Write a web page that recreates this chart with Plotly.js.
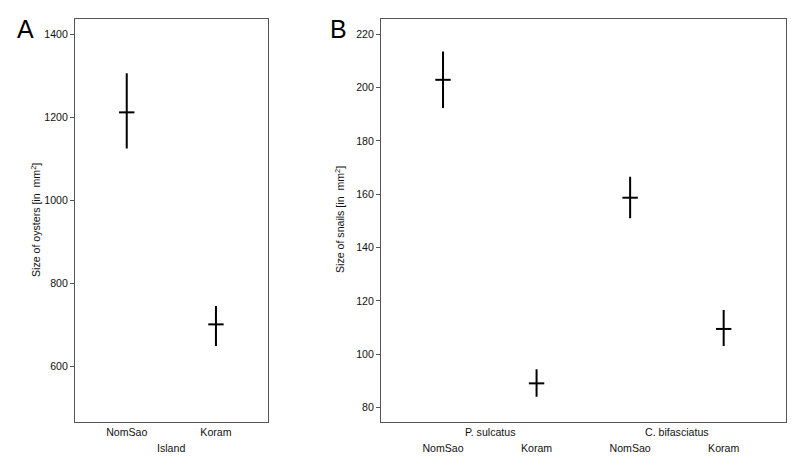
<!DOCTYPE html>
<html>
<head>
<meta charset="utf-8">
<script src="https://cdn.plot.ly/plotly-3.0.1.min.js"></script>
<style>html,body{margin:0;padding:0;background:#fff;}#chart{width:799px;height:472px;}</style>
</head>
<body>
<div id="chart"></div>
<script>
// Panel A: oysters
const islandsA = ['NomSao', 'Koram'];
const oysterMean = [1212, 701];
const oysterUpper = [1306, 745];
const oysterLower = [1125, 649];

// Panel B: snails
const speciesB = ['P. sulcatus', 'C. bifasciatus'];
const islandsB = ['NomSao', 'Koram', 'NomSao', 'Koram'];
const snailMean = [202.9, 89.1, 158.7, 109.5];
const snailUpper = [213.5, 94.4, 166.6, 116.6];
const snailLower = [192.3, 84.1, 151.0, 103.1];

const W = 799, H = 472;
const FONT = '"Liberation Sans", Arial, sans-serif';
const FS = 10.6;
const frame = '#555555';

const xA = islandsA.map((_, i) => i);
const xB = islandsB.map((_, i) => i);

function errTrace(x, mean, up, lo, xa, ya) {
  return {
    type: 'scatter', mode: 'markers', x: x, y: mean, xaxis: xa, yaxis: ya,
    marker: {symbol: 'line-ew', size: 11, color: '#000', line: {color: '#000', width: 2}},
    error_y: {type: 'data', symmetric: false,
      array: up.map((u, i) => u - mean[i]),
      arrayminus: lo.map((l, i) => mean[i] - l),
      width: 0, thickness: 2, color: '#000'},
    hoverinfo: 'skip', showlegend: false, cliponaxis: false
  };
}

const data = [
  errTrace(xA, oysterMean, oysterUpper, oysterLower, 'x', 'y'),
  errTrace(xB, snailMean, snailUpper, snailLower, 'x2', 'y2')
];

const yDom = [(H - 422.3) / H, (H - 19) / H];
const axBase = {
  showline: true, mirror: true, linecolor: frame, linewidth: 1,
  showgrid: false, zeroline: false, tickfont: {family: FONT, size: FS, color: '#111'}
};

const layout = {
  width: W, height: H,
  margin: {l: 0, r: 0, t: 0, b: 0},
  paper_bgcolor: '#fff', plot_bgcolor: '#fff',
  font: {family: FONT, size: FS, color: '#111'},
  showlegend: false,
  xaxis: Object.assign({}, axBase, {
    domain: [75 / W, 267.7 / W], range: [-0.58, 1.58],
    tickvals: xA, ticktext: islandsA, ticks: '', anchor: 'y'
  }),
  yaxis: Object.assign({}, axBase, {
    domain: yDom, range: [465, 1437], tickvals: [600, 800, 1000, 1200, 1400],
    ticks: 'outside', ticklen: 4, tickcolor: frame, tickwidth: 1, anchor: 'x'
  }),
  xaxis2: Object.assign({}, axBase, {
    domain: [381 / W, 785.7 / W], range: [-0.663, 3.663],
    tickvals: xB, ticktext: islandsB, ticks: '', anchor: 'y2',
    ticklabelstandoff: 16
  }),
  yaxis2: Object.assign({}, axBase, {
    domain: yDom, range: [74.5, 225.7], tickvals: [80, 100, 120, 140, 160, 180, 200, 220],
    ticks: 'outside', ticklen: 4, tickcolor: frame, tickwidth: 1, anchor: 'x2'
  }),
  annotations: [
    {text: 'A', xref: 'paper', yref: 'paper', x: 25 / W, y: 1 - 29 / H, showarrow: false,
     font: {family: FONT, size: 25, color: '#000'}, xanchor: 'center', yanchor: 'middle'},
    {text: 'B', xref: 'paper', yref: 'paper', x: 338 / W, y: 1 - 29 / H, showarrow: false,
     font: {family: FONT, size: 25, color: '#000'}, xanchor: 'center', yanchor: 'middle'},
    {text: 'Size of oysters [in  mm<sup>2</sup>]', xref: 'paper', yref: 'paper',
     x: 35 / W, y: 1 - 220 / H, textangle: -90, showarrow: false,
     xanchor: 'center', yanchor: 'middle', font: {family: FONT, size: FS, color: '#111'}},
    {text: 'Size of snails [in  mm<sup>2</sup>]', xref: 'paper', yref: 'paper',
     x: 339 / W, y: 1 - 220 / H, textangle: -90, showarrow: false,
     xanchor: 'center', yanchor: 'middle', font: {family: FONT, size: FS, color: '#111'}},
    {text: 'Island', xref: 'paper', yref: 'paper', x: 171 / W, y: 1 - 448 / H, showarrow: false,
     xanchor: 'center', yanchor: 'middle', font: {family: FONT, size: FS, color: '#111'}},
    ...speciesB.map((s, i) => ({
      text: s, xref: 'x2', yref: 'paper', x: 2 * i + 0.5, y: 1 - 432 / H, showarrow: false,
      xanchor: 'center', yanchor: 'middle', font: {family: FONT, size: FS, color: '#111'}
    }))
  ]
};

Plotly.newPlot('chart', data, layout, {displayModeBar: false, staticPlot: true});
</script>
</body>
</html>
